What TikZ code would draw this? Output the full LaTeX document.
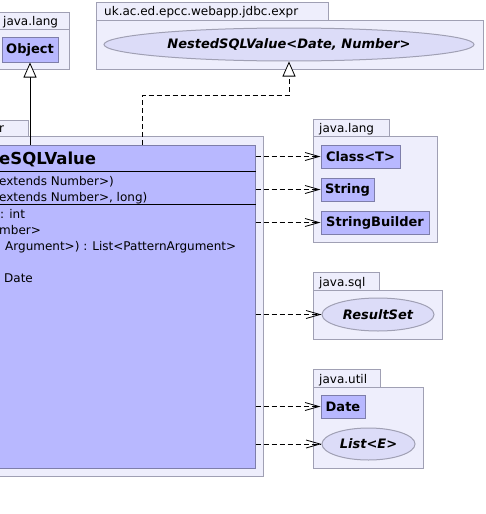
\documentclass[tikz,border=0pt]{standalone}
\usepackage{fontspec}
\setmainfont{DejaVu Sans}
\usetikzlibrary{arrows.meta,shapes.geometric}
\definecolor{pkgfill}{HTML}{EEEEFC}
\definecolor{pkgline}{HTML}{A0A0B4}
\definecolor{clsfill}{HTML}{B8B8FF}
\definecolor{clsline}{HTML}{7E7EAA}
\definecolor{ifill}{HTML}{DCDCF8}
\begin{document}
\begin{tikzpicture}[x=1pt,y=-1pt,
 pkg/.style={draw=pkgline,fill=pkgfill,line width=1pt},
 clsbox/.style={draw=clsline,fill=clsfill,line width=1pt,inner sep=0,font=\bfseries\fontsize{13}{15}\selectfont},
 iface/.style={ellipse,draw=pkgline,fill=ifill,line width=1pt,inner sep=0,font=\bfseries\itshape\fontsize{13}{15}\selectfont},
 lbl/.style={anchor=base west,inner sep=0,font=\fontsize{12}{14}\selectfont},
 dep/.style={draw,dash pattern=on 5pt off 3pt,line width=0.8pt,-{Straight Barb[length=14pt,width=8pt]}},
 inh/.style={draw,line width=0.8pt,-{Triangle[open,length=15pt,width=13pt,fill=white]}},
 real/.style={draw,dash pattern=on 5pt off 3pt,line width=0.8pt,-{Triangle[open,length=15pt,width=13pt,fill=white]}},
 ]
\path[use as bounding box] (0,0) rectangle (485,514);
\clip (0,0) rectangle (485,514);
% packages
\draw[pkg] (-20,12) rectangle (69,29);
\draw[pkg] (-20,29) rectangle (69,69);
\node[lbl] (p1) at (3,25) {java.lang};
\draw[pkg] (96,2) rectangle (328,20);
\draw[pkg] (96,20) rectangle (483,69);
\node[lbl] (p2) at (104,16) {uk.ac.ed.epcc.webapp.jdbc.expr};
\draw[pkg] (-20,120) rectangle (28,136);
\draw[pkg] (-20,136) rectangle (263,476);
\node[lbl] (p3) at (-1,132) {r};
\draw[pkg] (313,119) rectangle (389,136);
\draw[pkg] (313,136) rectangle (437,242);
\node[lbl] (p4) at (319,132) {java.lang};
\draw[pkg] (313,272) rectangle (379,290);
\draw[pkg] (313,290) rectangle (442,339);
\node[lbl] (p5) at (319,286) {java.sql};
\draw[pkg] (313,369) rectangle (380,387);
\draw[pkg] (313,387) rectangle (423,468);
\node[lbl] (p6) at (319,383) {java.util};
% nodes
\node[clsbox,minimum width=56pt,minimum height=25pt] (obj) at (30,49.5) {Object};
\node[iface,minimum width=370pt,minimum height=33pt] (nested) at (289,44.5) {NestedSQLValue<Date, Number>};
\node[clsbox,minimum width=265pt,minimum height=323pt] (cls) at (122.5,306.5) {};
\draw[line width=1pt] (-20,171) -- (cls.east |- 0,171);
\draw[line width=1pt] (-20,204) -- (cls.east |- 0,204);
\node[lbl,font=\bfseries\fontsize{16.5}{19}\selectfont] (cname) at (-1,164) {eSQLValue};
\node[lbl] (l1) at (-1,185) {extends Number>)};
\node[lbl] (l2) at (-1,201) {extends Number>, long)};
\node[lbl] (l3) at (0,218) {: int};
\node[lbl] (l4) at (-1,234) {mber>};
\node[lbl] (l5) at (5,250) {Argument>) : List<PatternArgument>};
\node[lbl] (l6) at (4,282) {Date};
\node[clsbox,minimum width=79pt,minimum height=23pt] (classT) at (360.5,156.5) {Class<T>};
\node[clsbox,minimum width=53pt,minimum height=23pt] (string) at (347.5,189.5) {String};
\node[clsbox,minimum width=108pt,minimum height=23pt] (sb) at (375,222.5) {StringBuilder};
\node[iface,minimum width=112pt,minimum height=33pt] (rs) at (378,314.5) {ResultSet};
\node[clsbox,minimum width=44pt,minimum height=23pt] (date) at (343,406.5) {Date};
\node[iface,minimum width=93pt,minimum height=32pt] (list) at (368.5,444) {List<E>};
% connectors
\draw[inh] (cls.north -| obj.south) -- (obj.south);
\coordinate (r1) at (142,95);
\draw[real] (cls.north -| r1) -- (r1) -- (r1 -| nested.south) -- (nested.south);
\draw[dep] (cls.east |- classT.west) -- (classT.west);
\draw[dep] (cls.east |- string.west) -- (string.west);
\draw[dep] (cls.east |- sb.west) -- (sb.west);
\draw[dep] (cls.east |- rs.west) -- (rs.west);
\draw[dep] (cls.east |- date.west) -- (date.west);
\draw[dep] (cls.east |- list.west) -- (list.west);
\end{tikzpicture}
\end{document}
